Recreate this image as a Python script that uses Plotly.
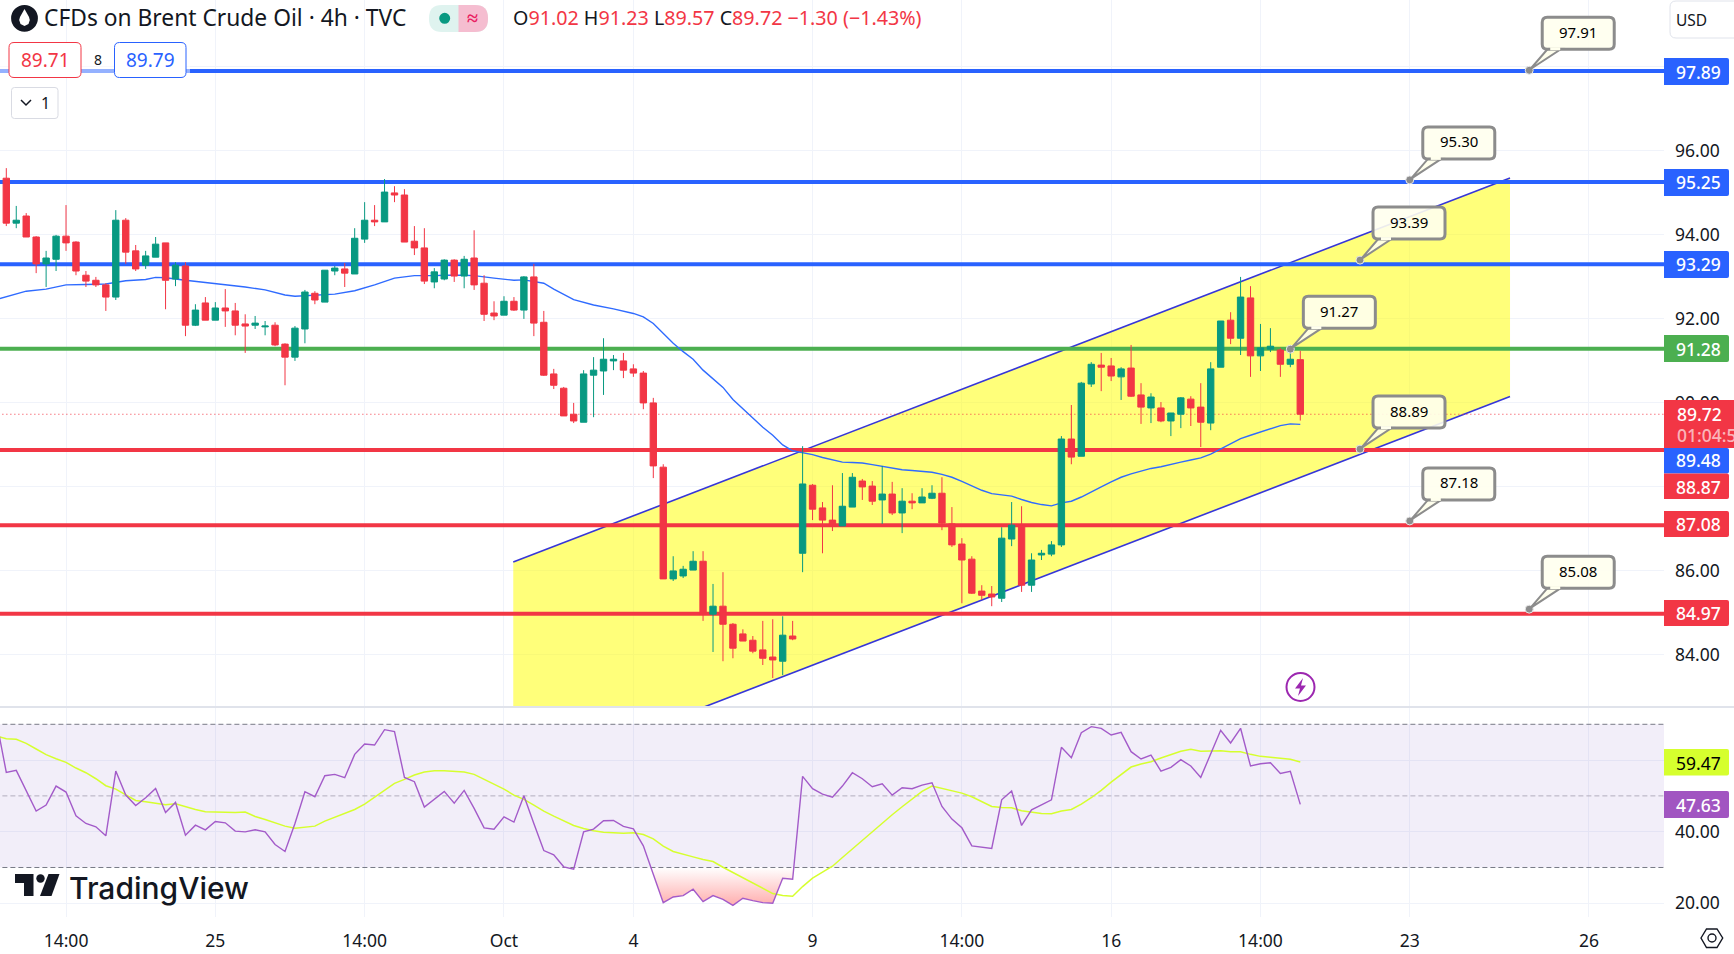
import plotly.graph_objects as go

W, H = 1734, 954

# ---------- data ----------
candle_index = list(range(131))
opens = [95.34,94.27,94.44,93.94,93.30,93.41,93.96,93.82,93.03,92.91,92.80,92.51,94.34,93.61,93.27,93.46,93.80,92.94,93.25,91.84,
 92.37,91.96,92.25,92.18,91.87,91.84,91.80,91.84,91.39,91.08,91.75,92.60,92.39,93.13,93.18,93.06,93.89,94.34,94.30,94.99,
 94.94,93.84,93.68,92.87,92.94,93.39,93.01,93.44,92.84,92.13,92.08,92.41,92.20,92.99,91.91,90.68,90.34,89.72,89.53,90.65,
 90.75,90.99,90.99,90.80,90.70,89.99,88.46,85.80,85.87,86.01,86.22,84.96,85.15,84.72,84.49,84.34,84.11,83.94,83.84,84.44,
 86.41,88.03,87.49,87.20,87.06,87.51,88.13,88.01,87.68,87.82,87.37,87.65,87.61,87.72,87.84,87.11,86.63,86.27,85.51,85.44,
 85.34,86.75,87.08,85.65,86.37,86.39,86.61,89.13,88.72,90.44,90.89,90.87,90.61,90.82,90.18,89.87,89.87,89.56,89.72,90.08,
 89.89,89.51,90.84,91.96,91.53,92.49,91.11,91.27,91.25,90.91,91.02]
highs = [95.58,94.68,94.51,93.96,93.61,93.99,94.70,93.84,93.13,92.99,92.84,94.58,94.39,93.75,93.61,93.94,93.80,93.34,93.34,92.34,
 92.51,92.39,92.70,92.37,92.10,92.06,91.94,91.91,91.41,91.82,92.68,92.65,93.15,93.25,93.32,94.15,94.77,94.70,95.32,95.15,
 95.08,94.20,94.15,93.20,93.41,93.41,93.49,94.10,93.03,92.41,92.53,92.51,93.01,93.30,92.18,90.80,90.37,89.99,90.77,91.08,
 91.53,91.13,91.18,90.91,90.75,90.11,88.53,86.34,86.11,86.46,86.46,85.68,85.96,84.75,84.60,84.44,84.80,84.84,84.91,84.80,
 88.96,88.06,87.63,88.03,88.32,88.32,88.18,88.13,88.49,88.11,87.96,87.84,87.96,88.03,88.22,87.51,86.77,86.34,85.65,85.63,
 87.03,87.63,87.53,86.41,86.49,86.70,89.20,89.94,90.49,90.96,91.18,91.06,90.84,91.37,90.46,90.22,90.01,89.75,90.13,90.15,
 90.46,90.96,91.94,92.15,92.99,92.77,91.87,91.77,91.30,91.18,91.23]
lows = [94.20,94.15,93.94,93.08,92.75,93.13,93.61,93.03,92.75,92.75,92.18,92.44,93.30,93.13,93.18,93.46,92.22,92.77,91.58,91.82,
 91.96,91.96,91.80,91.60,91.18,91.75,91.60,91.34,90.41,90.99,91.41,92.34,92.39,93.03,92.75,93.06,93.80,94.20,94.30,94.77,
 93.82,93.51,92.82,92.72,92.91,92.87,92.72,92.68,91.94,91.96,92.08,92.18,91.99,91.58,90.63,90.32,89.68,89.51,89.53,89.65,
 90.18,90.77,90.58,90.61,89.84,88.20,85.80,85.75,85.82,86.01,84.80,84.06,83.84,83.91,84.32,84.03,83.75,83.44,83.51,84.34,
 85.96,87.20,86.41,86.94,87.06,87.51,87.68,87.56,87.11,87.32,86.89,87.46,87.61,87.70,86.96,86.56,85.22,85.44,85.30,85.15,
 85.25,86.58,85.49,85.49,86.25,86.34,86.56,88.53,88.72,90.37,90.27,90.51,90.06,90.13,89.49,89.51,89.53,89.20,89.39,89.44,
 88.94,89.34,90.84,91.39,91.13,90.61,90.75,91.20,90.61,90.84,89.57]
closes = [94.27,94.34,93.94,93.30,93.44,93.96,93.80,93.13,92.89,92.80,92.51,94.34,93.58,93.18,93.49,93.77,92.91,93.27,91.84,92.20,
 91.96,92.25,92.18,91.84,91.82,91.89,91.82,91.37,91.08,91.77,92.63,92.44,93.15,93.20,93.08,93.91,94.34,94.30,95.01,94.94,
 93.82,93.68,92.89,93.11,93.39,93.01,93.41,92.80,92.10,92.06,92.41,92.20,92.99,91.89,90.65,90.41,89.68,89.56,90.68,90.77,
 91.03,91.03,90.77,90.70,89.99,88.49,85.80,85.99,86.03,86.22,84.96,85.15,84.72,84.15,84.32,84.08,83.91,83.87,84.46,84.37,
 88.06,87.46,87.20,87.06,87.53,88.22,87.99,87.65,87.82,87.37,87.65,87.61,87.75,87.84,87.13,86.61,86.25,85.46,85.41,85.37,
 86.77,87.08,85.65,86.25,86.41,86.61,89.13,88.70,90.46,90.91,90.84,90.63,90.80,90.15,89.89,90.13,89.56,89.75,90.11,89.87,
 89.53,90.80,91.94,91.53,92.51,91.11,91.30,91.34,90.91,91.03,89.72]

ma_index = [-1,2,4,6,8,10,12,14,15,16,18,20,22,24,26,28,29,31,33,35,37,39,41,43,44,46,47,49,51,52,54,55,56,57,59,61,63,64,65,66,67,68,69,70,71,72,73,74,75,76,77,78,79,
 80,81,82,83,84,85,86,87,88,89,90,91,92,93,94,95,96,97,98,99,100,101,102,103,104,105,106,107,108,109,110,111,112,113,114,115,116,117,118,119,120,121,122,123,124,125,126,127,128,129,130]
ma_values = [92.45,92.65,92.70,92.80,92.81,92.82,92.90,92.93,92.98,92.97,92.91,92.86,92.81,92.75,92.68,92.56,92.53,92.55,92.58,92.66,92.80,92.96,93.02,93.02,93.03,93.03,93.02,92.96,92.91,92.92,92.84,92.70,92.57,92.45,92.32,92.23,92.12,92.04,91.88,91.64,91.41,91.21,91.03,90.77,90.57,90.36,90.07,89.85,89.62,89.41,89.22,88.99,88.85,
 88.81,88.76,88.69,88.63,88.58,88.57,88.56,88.52,88.48,88.43,88.40,88.38,88.36,88.34,88.29,88.22,88.12,88.01,87.91,87.83,87.80,87.77,87.69,87.62,87.57,87.54,87.61,87.65,87.75,87.88,87.99,88.11,88.22,88.30,88.36,88.43,88.47,88.53,88.58,88.63,88.68,88.77,88.89,89.01,89.14,89.22,89.30,89.38,89.45,89.49,89.48]

rsi_index = list(range(-1, 131))
rsi_values = [71.0,56.57,57.13,51.62,45.75,47.43,52.74,51.06,44.44,42.29,41.36,38.84,56.94,50.22,47.33,49.48,52.09,45.37,48.17,39.03,41.83,40.52,42.85,42.48,40.15,39.96,40.52,39.96,36.42,34.46,42.29,51.16,49.76,55.63,56.0,55.07,61.6,64.5,64.2,68.5,67.95,55.17,53.96,46.87,49.1,51.25,
 47.99,51.53,46.49,41.08,40.71,44.16,42.67,50.04,42.29,34.74,33.53,30.19,29.51,39.96,40.71,43.04,43.13,41.46,40.8,36.05,28.12,20.19,21.77,22.15,23.92,20.47,22.15,21.12,19.44,21.4,20.75,20.19,20.0,27.0,26.72,55.45,52.0,50.5,49.66,52.74,56.47,54.79,52.56,53.4,
 50.22,52.28,52.0,53.02,53.68,47.05,43.51,41.08,36.05,35.67,35.3,48.92,51.34,41.74,46.12,47.52,48.92,63.56,60.67,67.67,69.35,68.88,67.01,67.76,62.35,60.3,61.42,56.94,57.97,60.11,58.34,55.17,61.88,68.32,64.78,68.88,58.34,58.99,59.27,56.29,56.85,47.63]
rsi_ma_values = [66.74,65.99,65.8,64.68,63.1,61.51,60.39,59.37,57.78,56.47,54.79,52.84,51.9,50.41,48.73,48.36,47.99,47.52,47.8,46.96,46.21,45.56,45.47,45.47,45.37,45.47,44.25,43.41,42.57,41.55,40.99,41.36,41.55,42.95,43.97,45.0,46.21,47.71,49.57,51.53,53.49,54.61,55.82,56.66,57.03,57.03,
 56.94,56.66,56.01,54.7,53.3,51.9,50.22,49.01,47.43,45.75,44.35,42.95,41.73,40.9,40.24,39.87,39.68,39.59,39.68,39.22,38.0,35.95,34.46,33.62,32.97,32.22,31.66,30.07,28.58,27.0,25.5,24.01,22.71,22.15,21.96,24.67,27.0,28.68,30.35,32.78,35.2,37.63,40.06,42.29,
 44.72,46.96,49.1,51.25,52.74,52.09,51.44,50.78,49.76,48.36,47.05,46.77,46.68,45.84,45.47,45.09,45.0,45.75,46.21,47.71,49.48,51.53,53.86,56.01,58.06,58.9,59.55,60.58,61.6,62.44,63.0,62.44,62.54,62.63,62.35,62.35,61.6,61.04,60.76,60.48,60.21,59.47]

oversold_x = [64.76,65,66,67,68,69,70,71,72,73,74,75,76,77,78,79,79.11]
oversold_y = [30,28.12,20.19,21.77,22.15,23.92,20.47,22.15,21.12,19.44,21.4,20.75,20.19,20.0,27.0,26.72,30]

blue_levels = [97.89, 95.25, 93.29]
green_levels = [91.28]
red_levels = [88.87, 87.08, 84.97]
last_price = 89.72

channel_x = [50.93, 151.07]
channel_upper = [86.20, 95.345]
channel_lower = [81.00, 90.14]

callout_index = [153, 141, 136, 129, 136, 141, 153]
callout_values = [97.91, 95.30, 93.39, 91.27, 88.89, 87.18, 85.08]

time_ticks = [6, 21, 36, 50, 63, 81, 96, 111, 126, 141, 159]
time_labels = ["14:00", "25", "14:00", "Oct", "4", "9", "14:00", "16", "14:00", "23", "26"]
price_ticks = [84, 86, 88, 90, 92, 94, 96, 98]
price_labels = ["84.00", "86.00", "", "90.00", "92.00", "94.00", "96.00", ""]
rsi_ticks = [20, 40, 60]
rsi_labels = ["20.00", "40.00", ""]
# -------------------------------------------------

BLUE, RED, GREEN = "#2962FF", "#F23645", "#4CAF50"
UP = "#089981"
GRID = "#f0f3fa"
FONT = "Noto Sans"
TXT = "#131722"
XR = [-0.633, 166.54]
YR = [82.75, 99.583]
RR = [16.17, 74.55]
X_SPAN = [-2, 170]

fig = go.Figure()

# channel, levels, MA in the base subplot (below the candles)
fig.add_trace(go.Scatter(x=[channel_x[0], channel_x[1], channel_x[1], channel_x[0]],
                         y=[channel_upper[0], channel_upper[1], channel_lower[1], channel_lower[0]],
                         fill="toself", fillcolor="rgba(255,255,0,0.52)", mode="none", hoverinfo="skip"))
for ys in (channel_upper, channel_lower):
    fig.add_trace(go.Scatter(x=channel_x, y=ys, mode="lines", line=dict(color="#3636D8", width=1.6), hoverinfo="skip"))
for levels, col in ((blue_levels, BLUE), (green_levels, GREEN), (red_levels, RED)):
    for lv in levels:
        fig.add_trace(go.Scatter(x=X_SPAN, y=[lv, lv], mode="lines", line=dict(color=col, width=4), hoverinfo="skip"))
fig.add_trace(go.Scatter(x=X_SPAN, y=[last_price, last_price], mode="lines",
                         line=dict(color=RED, width=1, dash="1px,3px"), hoverinfo="skip"))
fig.add_trace(go.Scatter(x=ma_index, y=ma_values, mode="lines", line=dict(color="#2F6BFF", width=1.4), hoverinfo="skip"))

# candles in an overlay subplot
fig.add_trace(go.Candlestick(x=candle_index, open=opens, high=highs, low=lows, close=closes, xaxis="x2", yaxis="y2",
                             increasing=dict(line=dict(color=UP, width=1), fillcolor=UP),
                             decreasing=dict(line=dict(color=RED, width=1), fillcolor=RED),
                             whiskerwidth=0, hoverinfo="skip"))
fig.add_trace(go.Scatter(x=callout_index, y=callout_values, xaxis="x2", yaxis="y2", mode="markers",
                         marker=dict(size=8, color="#8c8c8c", line=dict(color="#e8e8e8", width=1)), hoverinfo="skip"))

# RSI pane
fig.add_trace(go.Scatter(x=[X_SPAN[0], X_SPAN[1], X_SPAN[1], X_SPAN[0]], y=[30, 30, 70, 70], xaxis="x3", yaxis="y3",
                         fill="toself", fillcolor="rgba(126,87,194,0.1)", mode="none", hoverinfo="skip"))
fig.add_trace(go.Scatter(x=oversold_x, y=oversold_y, xaxis="x3", yaxis="y3", fill="toself", mode="none",
                         fillgradient=dict(type="vertical", start=19, stop=30,
                                           colorscale=[[0, "rgba(255,170,170,1)"], [1, "rgba(255,255,255,1)"]]),
                         hoverinfo="skip"))
for lv, col in ((70, "#787B86"), (50, "#B2ADBE"), (30, "#787B86")):
    fig.add_trace(go.Scatter(x=X_SPAN, y=[lv, lv], xaxis="x3", yaxis="y3", mode="lines",
                             line=dict(color=col, width=1, dash="5px,3px"), hoverinfo="skip"))
fig.add_trace(go.Scatter(x=rsi_index, y=rsi_ma_values, xaxis="x3", yaxis="y3", mode="lines",
                         line=dict(color="#D6FF2E", width=1.5), hoverinfo="skip"))
fig.add_trace(go.Scatter(x=rsi_index, y=rsi_values, xaxis="x3", yaxis="y3", mode="lines",
                         line=dict(color="#A35BC9", width=1.4), hoverinfo="skip"))

shapes, annos = [], []

def PX(x): return x / W
def PY(y): return 1 - y / H

def rrect(x0, y0, x1, y1, r=0, fill="white", line="rgba(0,0,0,0)", lw=0, rl=None):
    rl = r if rl is None else rl
    p = (f"M{PX(x0+rl)},{PY(y0)} L{PX(x1-r)},{PY(y0)} Q{PX(x1)},{PY(y0)} {PX(x1)},{PY(y0+r)} "
         f"L{PX(x1)},{PY(y1-r)} Q{PX(x1)},{PY(y1)} {PX(x1-r)},{PY(y1)} L{PX(x0+rl)},{PY(y1)} "
         f"Q{PX(x0)},{PY(y1)} {PX(x0)},{PY(y1-rl)} L{PX(x0)},{PY(y0+rl)} Q{PX(x0)},{PY(y0)} {PX(x0+rl)},{PY(y0)} Z")
    shapes.append(dict(type="path", xref="paper", yref="paper", path=p, fillcolor=fill,
                       line=dict(color=line, width=lw), layer="above"))

def poly(pts, fill="rgba(0,0,0,0)", line="rgba(0,0,0,0)", lw=0, close=True):
    p = "M" + " L".join(f"{PX(x)},{PY(y)}" for x, y in pts) + (" Z" if close else "")
    shapes.append(dict(type="path", xref="paper", yref="paper", path=p, fillcolor=fill,
                       line=dict(color=line, width=lw), layer="above"))

def circle(cx, cy, r, fill="rgba(0,0,0,0)", line="rgba(0,0,0,0)", lw=0):
    shapes.append(dict(type="circle", xref="paper", yref="paper", x0=PX(cx-r), x1=PX(cx+r), y0=PY(cy+r), y1=PY(cy-r),
                       fillcolor=fill, line=dict(color=line, width=lw), layer="above"))

def txt(x, y, s, size=17.5, color=TXT, anchor="center", family=FONT, weight=None):
    annos.append(dict(xref="paper", yref="paper", x=PX(x), y=PY(y), text=s, showarrow=False, xanchor=anchor, yanchor="middle",
                      font=dict(family=family, size=size, color=color, weight=weight), borderpad=0))

# separator
shapes.append(dict(type="line", xref="paper", yref="paper", x0=0, x1=1, y0=PY(707), y1=PY(707),
                   line=dict(color="#e0e3eb", width=2), layer="above"))

# callouts anchored to their price points
for ix, val in zip(callout_index, callout_values):
    base = dict(type="path", xref="x", yref="y", xsizemode="pixel", ysizemode="pixel", xanchor=ix, yanchor=val, layer="above")
    shapes.append(dict(base, path="M1,1 L19,22 L33,22 Z", fillcolor="rgba(255,255,235,0.9)",
                       line=dict(color="#8c8c8c", width=2)))
    shapes.append(dict(base, path="M18,21 L80,21 Q85,21 85,26 L85,48 Q85,53 80,53 L18,53 Q13,53 13,48 L13,26 Q13,21 18,21 Z",
                       fillcolor="rgba(255,255,238,0.9)", line=dict(color="#8c8c8c", width=3)))
    shapes.append(dict(base, path="M21,21.5 L31,21.5", line=dict(color="#FFFFEE", width=3)))
    annos.append(dict(xref="x", yref="y", x=ix, y=val, text=f"{val:.2f}", showarrow=False, xanchor="center", yanchor="middle",
                      xshift=49, yshift=38.5, font=dict(family=FONT, size=15, color="#000000")))

# right-hand price labels
for s, y0, y1, bg in (("97.89", 58, 85, BLUE), ("95.25", 169, 196, BLUE), ("93.29", 251, 278, BLUE), ("91.28", 335, 362, GREEN),
                      ("87.08", 511, 537, RED), ("84.97", 600, 626, RED)):
    rrect(1664, y0, 1729, y1, r=2, fill=bg, rl=0.01)
    txt(1698, (y0+y1)/2, s, color="white", weight=500)
rrect(1664, 400, 1734, 448, fill=RED)
txt(1676, 414, "89.72", color="white", anchor="left", weight=500)
txt(1676, 435, "01:04:5", color="rgba(255,255,255,0.65)", anchor="left", weight=500)
rrect(1664, 448, 1729, 473.5, r=2, fill=BLUE, rl=0.01)
txt(1698, 460.5, "89.48", color="white", weight=500)
rrect(1664, 473.5, 1729, 499, r=2, fill=RED, rl=0.01)
txt(1698, 486.5, "88.87", color="white", weight=500)
rrect(1664, 749, 1729, 775.5, r=2, fill="#D6FF2E", rl=0.01)
txt(1698, 762.5, "59.47", color="#000000")
rrect(1664, 791, 1729, 818, r=2, fill="#A155C1", rl=0.01)
txt(1698, 804.5, "47.63", color="white", weight=500)
# USD
rrect(1670, 1, 1740, 38, r=6, fill="white", line="#e0e3eb", lw=1)
txt(1691, 19.5, "USD", size=15.5)

# header
circle(24.5, 18.3, 13.4, fill="#131722")
poly([(24.5, 9), (29, 17), (29.8, 20), (28.5, 24), (24.5, 26), (20.5, 24), (19.2, 20), (20, 17)], fill="white")
txt(43, 18, "CFDs on Brent Crude Oil · 4h · TVC", size=22.8, anchor="left")
rrect(429, 5, 488, 32, r=13, fill="#DFF3EF")
rrect(458.5, 5, 488, 32, r=13, fill="#F5BDD0", rl=0.01)
circle(444.7, 18.3, 5.5, fill=UP)
txt(472, 17, "≈", size=20, color="#E91E63", weight=700)
sp = lambda s: f'<span style="color:{RED}">{s}</span>'
txt(512, 18, "O" + sp("91.02") + " H" + sp("91.23") + " L" + sp("89.57") + " C" + sp("89.72") + " " + sp("−1.30 (−1.43%)"),
    size=19.7, anchor="left")

# buy/sell widget on the dimmed line
rrect(0, 64, 190, 78, fill="rgba(255,255,255,0.5)")
rrect(9, 42.5, 81, 77.5, r=5, fill="white", line=RED, lw=1)
txt(45, 60, "89.71", size=19, color=RED)
txt(97.5, 60, "8", size=14)
rrect(114.5, 42.5, 186, 77.5, r=5, fill="white", line=BLUE, lw=1)
txt(150, 60, "89.79", size=19, color=BLUE)
rrect(11.5, 87.5, 58, 118.5, r=3, fill="white", line="#d9dbe3", lw=1)
poly([(21, 100), (26, 105), (31, 100)], line=TXT, lw=1.5, close=False)
txt(45, 103, "1", size=16)

# lightning mark
circle(1300.5, 687, 14, fill="white", line="#9C27B0", lw=2)
poly([(1303, 678), (1295, 688.5), (1300, 688.5), (1298, 696), (1306, 685.5), (1301, 685.5)], fill="#9C27B0")

# settings icon
poly([(1701, 938), (1706.5, 929), (1717, 929), (1722.7, 938), (1717, 947.5), (1706.5, 947.5)], line=TXT, lw=1.4)
circle(1712, 938, 4, line=TXT, lw=1.4)

# TradingView watermark
poly([(15, 874), (33.5, 874), (33.5, 896), (24, 896), (24, 883), (15, 883)], fill="#131722")
circle(40.5, 878.5, 4.2, fill="#131722")
poly([(48.5, 874), (59.5, 874), (51.5, 896), (40, 896)], fill="#131722")
txt(68, 888, "TradingView", size=30, family="Inter", weight=500, anchor="left")

fig.update_layout(
    width=W, height=H, autosize=False, showlegend=False, paper_bgcolor="white", plot_bgcolor="white",
    margin=dict(l=0, r=0, t=0, b=0), boxgap=0.36, boxgroupgap=0, shapes=shapes, annotations=annos,
    font=dict(family=FONT, size=17.5, color=TXT),
    xaxis=dict(domain=[0, 1664/W], range=XR, anchor="y", tickvals=time_ticks, showticklabels=False, showgrid=True,
               gridcolor=GRID, zeroline=False, ticks="", rangeslider=dict(visible=False), showline=False),
    yaxis=dict(domain=[1-707/H, 1], range=YR, anchor="x", side="right", tickvals=price_ticks, ticktext=price_labels,
               showgrid=True, gridcolor=GRID, zeroline=False, ticks="", ticklabelstandoff=10, showline=False),
    xaxis2=dict(domain=[0, 1664/W], range=XR, overlaying="x", anchor="y2", visible=False, rangeslider=dict(visible=False)),
    yaxis2=dict(domain=[1-707/H, 1], range=YR, overlaying="y", anchor="x2", visible=False),
    xaxis3=dict(domain=[0, 1664/W], range=XR, anchor="y3", tickvals=time_ticks, ticktext=time_labels, showgrid=True, gridcolor=GRID,
                zeroline=False, ticks="", ticklabelstandoff=11, rangeslider=dict(visible=False), showline=False),
    yaxis3=dict(domain=[1-917/H, 1-708/H], range=RR, anchor="x3", side="right", tickvals=rsi_ticks,
                ticktext=rsi_labels, showgrid=True, gridcolor=GRID, zeroline=False, ticks="",
                ticklabelstandoff=10, showline=False),
)

fig.write_html("out.html", config=dict(displayModeBar=False),
               post_script="document.body.style.margin='0';document.body.style.overflow='hidden';")
